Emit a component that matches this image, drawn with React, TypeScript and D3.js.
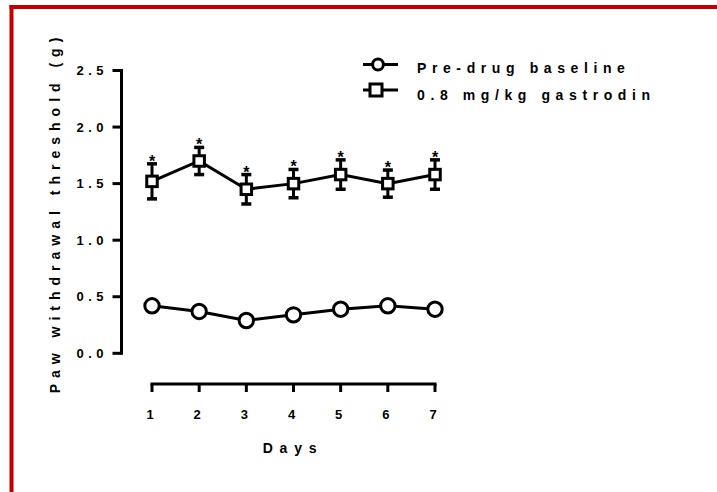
import React from "react";
import * as d3 from "d3";

const days = [1, 2, 3, 4, 5, 6, 7];
const baselineValues = [0.42, 0.37, 0.29, 0.34, 0.39, 0.42, 0.39];
const gastrodinValues = [1.52, 1.7, 1.45, 1.5, 1.58, 1.5, 1.58];
const gastrodinSEM = [0.155, 0.12, 0.13, 0.125, 0.13, 0.12, 0.13];
const yTicks = [0, 0.5, 1.0, 1.5, 2.0, 2.5];
const legendLabels = ["Pre-drug baseline", "0.8 mg/kg gastrodin"];
const xTitle = "Days";
const yTitle = "Paw withdrawal threshold (g)";

const W = 717;
const H = 492;
const FONT = "Arial, 'Liberation Sans', Helvetica, sans-serif";

export default function App() {
  const x = d3.scaleLinear().domain([1, 7]).range([152, 435]);
  const y = d3.scaleLinear().domain([0, 2.5]).range([353.3, 70.5]);
  const line = d3
    .line<number>()
    .x((_, i) => x(days[i]))
    .y((v) => y(v));

  const axisX = 121.5;
  const axisY = 384;
  const sq = 10.5;
  const capW = 10;

  return (
    <svg
      width={W}
      height={H}
      style={{ position: "absolute", left: 0, top: 0, background: "#fff" }}
      fontFamily={FONT}
      fontWeight="bold"
    >
      <rect x={0} y={0} width={W} height={H} fill="#fff" />
      {/* red frame */}
      <line x1={9.5} y1={7} x2={W} y2={7} stroke="#c00000" strokeWidth={4} />
      <line x1={11.5} y1={5} x2={11.5} y2={H} stroke="#c00000" strokeWidth={4} />

      {/* Y axis */}
      <line x1={axisX} y1={y(2.5) - 1.5} x2={axisX} y2={y(0) + 1.5} stroke="#000" strokeWidth={3} />
      {yTicks.map((t) => (
        <g key={t}>
          <line x1={112.5} x2={axisX} y1={y(t)} y2={y(t)} stroke="#000" strokeWidth={3} />
          <text
            x={108}
            y={y(t) + 4.5}
            textAnchor="end"
            fontSize={13}
            letterSpacing={4.5}
            fill="#000"
          >
            {t.toFixed(1)}
          </text>
        </g>
      ))}

      {/* X axis */}
      <line x1={x(1) - 1.5} x2={x(7) + 1.5} y1={axisY} y2={axisY} stroke="#000" strokeWidth={3} />
      {days.map((d) => (
        <g key={d}>
          <line x1={x(d)} x2={x(d)} y1={axisY} y2={axisY + 8} stroke="#000" strokeWidth={3} />
          <text x={x(d)} y={419} textAnchor="middle" fontSize={13} letterSpacing={4} fill="#000">
            {d}
          </text>
        </g>
      ))}

      {/* titles */}
      <text x={293} y={453} textAnchor="middle" fontSize={14} letterSpacing={6.8} fill="#000">
        {xTitle}
      </text>
      <text
        transform={`translate(60, 212.5) rotate(-90)`}
        textAnchor="middle"
        fontSize={14}
        letterSpacing={6}
        fill="#000"
      >
        {yTitle}
      </text>

      {/* baseline series */}
      <path d={line(baselineValues) || ""} fill="none" stroke="#000" strokeWidth={3} />
      {baselineValues.map((v, i) => (
        <circle key={i} cx={x(days[i])} cy={y(v)} r={7.2} fill="#fff" stroke="#000" strokeWidth={3} />
      ))}

      {/* gastrodin series */}
      {gastrodinValues.map((v, i) => {
        const cx = x(days[i]);
        const top = y(v + gastrodinSEM[i]);
        const bot = y(v - gastrodinSEM[i]);
        return (
          <g key={"e" + i}>
            <line x1={cx} x2={cx} y1={top} y2={bot} stroke="#000" strokeWidth={3} />
            <line x1={cx - capW / 2} x2={cx + capW / 2} y1={top} y2={top} stroke="#000" strokeWidth={3.5} />
            <line x1={cx - capW / 2} x2={cx + capW / 2} y1={bot} y2={bot} stroke="#000" strokeWidth={3.5} />
            <text x={cx} y={top + 3} textAnchor="middle" fontSize={16} fill="#000">
              *
            </text>
          </g>
        );
      })}
      <path d={line(gastrodinValues) || ""} fill="none" stroke="#000" strokeWidth={3} />
      {gastrodinValues.map((v, i) => (
        <rect
          key={"s" + i}
          x={x(days[i]) - sq / 2}
          y={y(v) - sq / 2}
          width={sq}
          height={sq}
          fill="#fff"
          stroke="#000"
          strokeWidth={3}
        />
      ))}

      {/* legend */}
      <g>
        <line x1={363} x2={398} y1={64.5} y2={64.5} stroke="#000" strokeWidth={3} />
        <circle cx={378} cy={64.5} r={5.4} fill="#fff" stroke="#000" strokeWidth={3} />
        <text x={417} y={72.5} fontSize={14} letterSpacing={5.6} fill="#000">
          {legendLabels[0]}
        </text>
        <line x1={363} x2={398} y1={90} y2={90} stroke="#000" strokeWidth={3} />
        <rect x={370} y={84} width={12} height={12} fill="#fff" stroke="#000" strokeWidth={3} />
        <text x={417} y={100} fontSize={14} letterSpacing={5.6} fill="#000">
          {legendLabels[1]}
        </text>
      </g>
    </svg>
  );
}
